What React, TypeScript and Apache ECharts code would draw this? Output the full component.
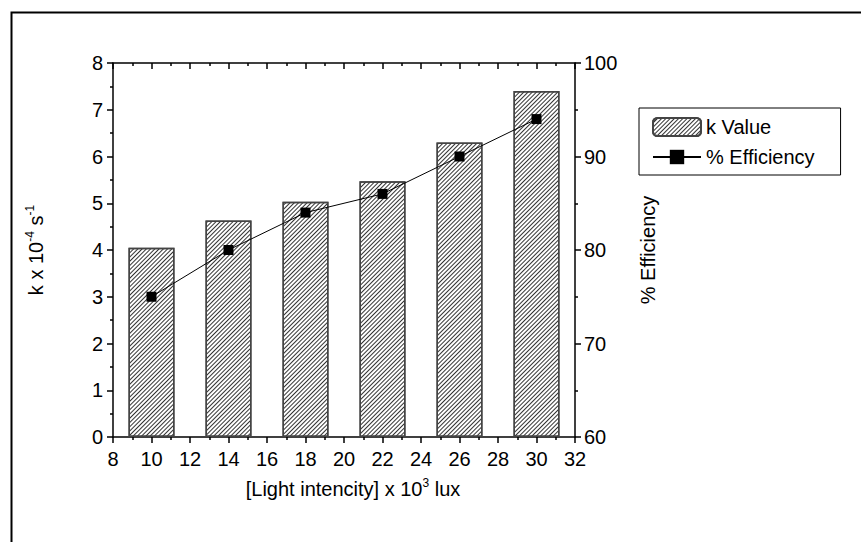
import React, { useEffect, useRef } from "react";
import * as echarts from "echarts";

const xPositions = [10, 14, 18, 22, 26, 30];
const kValues = [4.05, 4.63, 5.03, 5.47, 6.3, 7.4];
const efficiency = [75, 80, 84, 86, 90, 94];
const seriesNames = ["k Value", "% Efficiency"];

const FONT = "'Liberation Sans', Arial, sans-serif";

export default function App() {
  const ref = useRef<HTMLDivElement>(null);
  useEffect(() => {
    document.body.style.margin = "0";
    const chart = echarts.init(ref.current!, null, { renderer: "svg" });
    const axisLine = { show: true, lineStyle: { color: "#000", width: 1.5 } };
    const sup = { fontSize: 12, fontFamily: FONT, color: "#000", verticalAlign: "top", padding: [0, 0, 11, 0] };
    const base = { fontSize: 20, fontFamily: FONT, color: "#000" };
    const tickLabel = { fontSize: 20, color: "#000", fontFamily: FONT };
    const ticks = (inside: boolean) => ({
      axisTick: { show: true, inside, length: 6, lineStyle: { color: "#000", width: 1.5 } },
      minorTick: { show: true, splitNumber: 2, length: 3, lineStyle: { color: "#000", width: 1.5 } },
    });
    chart.setOption({
      animation: false,
      backgroundColor: "#fff",
      textStyle: { fontFamily: FONT },
      grid: { left: 113, top: 63, right: 286, bottom: 105, containLabel: false },
      legend: {
        orient: "vertical",
        left: 639,
        top: 108,
        data: seriesNames,
        borderColor: "#000",
        borderWidth: 1,
        padding: [9, 26, 8, 13],
        itemWidth: 48,
        itemHeight: 18,
        itemGap: 10,
        textStyle: { fontSize: 20, color: "#000", fontFamily: FONT },
      },
      xAxis: [
        {
          type: "value",
          min: 8,
          max: 32,
          interval: 2,
          position: "bottom",
          axisLine,
          ...ticks(false),
          splitLine: { show: false },
          axisLabel: { ...tickLabel, margin: 12 },
          name: "[Light intencity] x 10{sup|3} lux",
          nameLocation: "middle",
          nameGap: 40,
          nameTextStyle: { ...base, padding: [0, 0, 0, 18], rich: { sup } },
        },
        {
          type: "value",
          min: 8,
          max: 32,
          interval: 2,
          position: "top",
          axisLine,
          ...ticks(true),
          splitLine: { show: false },
          axisLabel: { show: false },
        },
      ],
      yAxis: [
        {
          type: "value",
          min: 0,
          max: 8,
          interval: 1,
          position: "left",
          axisLine,
          ...ticks(false),
          splitLine: { show: false },
          axisLabel: { ...tickLabel, margin: 10 },
          name: "k x 10{sup|-4} s{sup|-1}",
          nameLocation: "middle",
          nameRotate: 90,
          nameGap: 66,
          nameTextStyle: { ...base, rich: { sup } },
        },
        {
          type: "value",
          min: 60,
          max: 100,
          interval: 10,
          position: "right",
          axisLine,
          ...ticks(false),
          splitLine: { show: false },
          axisLabel: { ...tickLabel, margin: 9 },
          name: "% Efficiency",
          nameLocation: "middle",
          nameRotate: 90,
          nameGap: 63,
          nameTextStyle: { ...base },
        },
      ],
      graphic: [
        {
          type: "rect",
          shape: { x: 11.5, y: 12.5, width: 900, height: 600 },
          style: { fill: "none", stroke: "#000", lineWidth: 2 },
          silent: true,
          z: 100,
        },
      ],
      series: [
        {
          name: seriesNames[0],
          type: "bar",
          xAxisIndex: 0,
          yAxisIndex: 0,
          barWidth: 46,
          data: xPositions.map((x, i) => [x, kValues[i]]),
          itemStyle: {
            color: "#fff",
            borderColor: "#444",
            borderWidth: 1.5,
            decal: {
              symbol: "rect",
              symbolSize: 1,
              color: "#333",
              dashArrayX: [1, 0],
              dashArrayY: [1, 2],
              rotation: -Math.PI / 4,
            },
          },
        },
        {
          name: seriesNames[1],
          type: "line",
          xAxisIndex: 0,
          yAxisIndex: 1,
          data: xPositions.map((x, i) => [x, efficiency[i]]),
          symbol: "rect",
          symbolSize: 10,
          itemStyle: { color: "#000" },
          lineStyle: { color: "#000", width: 1 },
          z: 5,
        },
      ],
    });
    return () => chart.dispose();
  }, []);
  return <div ref={ref} style={{ width: 861, height: 542 }} />;
}
